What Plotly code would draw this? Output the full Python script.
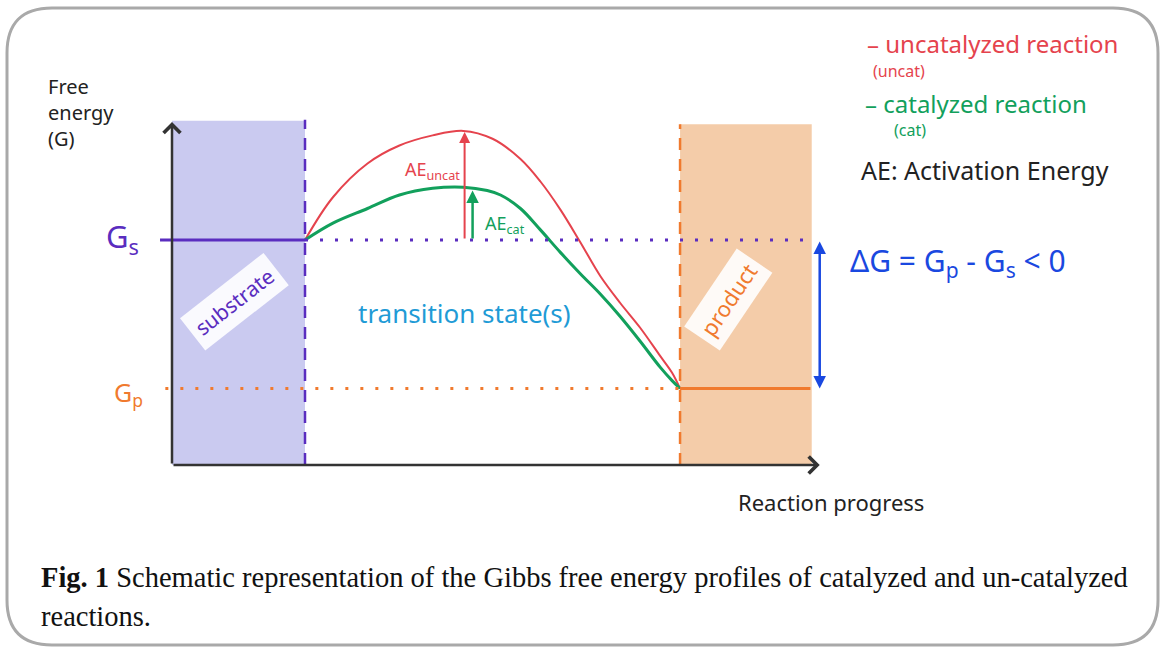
import plotly.graph_objects as go

# Free energy profile (arbitrary units): x = reaction progress, y = free energy G
progress_uncat = [1.00, 1.21, 1.47, 1.71, 1.96, 2.19, 2.41, 2.62, 2.77, 2.92,
                  3.07, 3.22, 3.37, 3.52, 3.67, 3.76, 3.82]
g_uncat = [10.0, 11.9, 13.4, 14.2, 14.65, 14.85, 14.5, 13.6, 12.6, 11.35,
           9.9, 8.4, 7.2, 6.1, 4.85, 4.1, 3.4]

progress_cat = [1.00, 1.21, 1.47, 1.71, 1.96, 2.19, 2.37, 2.47, 2.62, 2.77,
                2.92, 3.07, 3.22, 3.37, 3.52, 3.67, 3.76, 3.82]
g_cat = [10.0, 10.75, 11.4, 12.0, 12.3, 12.35, 12.2, 12.0, 11.4, 10.45,
         9.45, 8.5, 7.6, 6.6, 5.5, 4.35, 3.75, 3.4]

G_S = 10.0          # substrate free energy
G_P = 3.4           # product free energy
SUBSTRATE_END = 1.0
PRODUCT_START = 3.82
PRODUCT_END = 4.81
AXIS_END = 4.87
AXIS_TOP = 15.25
TS_PEAK_X = 2.2

W, H = 1165, 648
# axis scaling: 133 px per progress unit, 22.5 px per energy unit
X_RANGE = [-172 / 133, (W - 172) / 133]
Y_RANGE = [(465 - H) / 22.5, 465 / 22.5]

RED = "#e5434d"
GREEN = "#12a05c"
PURPLE = "#5a2dbf"
ORANGE = "#f07a2e"
BLUE = "#1a48e0"
TEAL = "#1f9bd6"
HAND = "Noto Sans"


def paper(px, py):
    return px / W, 1 - py / H


fig = go.Figure()

# shaded substrate / product zones
fig.add_shape(type="rect", x0=0, x1=SUBSTRATE_END, y0=0, y1=AXIS_TOP + 0.05,
              fillcolor="#cacaf0", line_width=0, layer="below")
fig.add_shape(type="rect", x0=PRODUCT_START, x1=PRODUCT_END, y0=0, y1=AXIS_TOP - 0.1,
              fillcolor="#f4cca9", line_width=0, layer="below")

# energy levels
fig.add_shape(type="line", x0=-0.09, x1=SUBSTRATE_END, y0=G_S, y1=G_S,
              line=dict(color=PURPLE, width=3))
fig.add_shape(type="line", x0=SUBSTRATE_END, x1=4.78, y0=G_S, y1=G_S,
              line=dict(color=PURPLE, width=3, dash="3px,12px"))
fig.add_shape(type="line", x0=-0.05, x1=PRODUCT_START, y0=G_P, y1=G_P,
              line=dict(color=ORANGE, width=3, dash="3px,12px"))
fig.add_shape(type="line", x0=PRODUCT_START, x1=4.8, y0=G_P, y1=G_P,
              line=dict(color=ORANGE, width=3))

# zone boundaries
fig.add_shape(type="line", x0=SUBSTRATE_END, x1=SUBSTRATE_END, y0=0, y1=AXIS_TOP + 0.1,
              line=dict(color=PURPLE, width=2.5, dash="12px,9px"))
fig.add_shape(type="line", x0=PRODUCT_START, x1=PRODUCT_START, y0=0, y1=AXIS_TOP - 0.1,
              line=dict(color=ORANGE, width=2.5, dash="12px,9px"))

# profiles
fig.add_trace(go.Scatter(x=progress_uncat, y=g_uncat, mode="lines",
                         line=dict(color=RED, width=2, shape="spline", smoothing=1.0),
                         hoverinfo="skip"))
fig.add_trace(go.Scatter(x=progress_cat, y=g_cat, mode="lines",
                         line=dict(color=GREEN, width=3, shape="spline", smoothing=1.0),
                         hoverinfo="skip"))


def arrow(x, y, ax, ay, color, width=2, head=2, size=1.0, side="end"):
    fig.add_annotation(x=x, y=y, ax=ax, ay=ay, xref="x", yref="y", axref="x", ayref="y",
                       text="", showarrow=True, arrowhead=head, startarrowhead=head,
                       arrowsize=size, startarrowsize=size, arrowwidth=width,
                       arrowcolor=color, arrowside=side, standoff=0, startstandoff=0)


# axes
arrow(0, AXIS_TOP, 0, 0, "#333333", width=2.5, head=4, size=1.3)
arrow(AXIS_END, 0, 0, 0, "#333333", width=2.5, head=4, size=1.3)

# activation energies
arrow(TS_PEAK_X, max(g_uncat) - 0.05, TS_PEAK_X, G_S, RED, width=2, head=2, size=1.1)
arrow(TS_PEAK_X + 0.06, max(g_cat) - 0.15, TS_PEAK_X + 0.06, G_S, GREEN, width=2.5, head=2, size=1.0)

# delta G
arrow(AXIS_END, G_P, AXIS_END, G_S, BLUE, width=2.5, head=2, size=1.0, side="end+start")


def label(px, py, text, color, size, angle=0, font=HAND, xanchor="center", bg=None, pad=0,
          align="center"):
    x, y = paper(px, py)
    fig.add_annotation(x=x, y=y, xref="paper", yref="paper", text=text, showarrow=False,
                       font=dict(family=font, size=size, color=color), textangle=angle,
                       xanchor=xanchor, yanchor="middle", align=align,
                       bgcolor=bg, borderpad=pad)


label(47, 112, "Free<br>energy<br>(G)", "#222222", 20, xanchor="left", align="left")
label(122, 238, "G<sub>s</sub>", PURPLE, 31)
label(128, 393, "G<sub>p</sub>", ORANGE, 25)
label(234, 302, "substrate", PURPLE, 21, angle=-38, bg="rgba(255,255,255,0.9)", pad=6)
label(728, 300, "product", ORANGE, 22, angle=-56, bg="rgba(255,255,255,0.9)", pad=6)
label(464, 313, "transition state(s)", TEAL, 26)
label(831, 502, "Reaction progress", "#222222", 22)
label(432, 170, "AE<sub>uncat</sub>", RED, 18)
label(505, 224, "AE<sub>cat</sub>", GREEN, 18)
label(958, 262, "ΔG = G<sub>p</sub> - G<sub>s</sub> &lt; 0", BLUE, 30)

label(866, 44, "– uncatalyzed reaction", RED, 24, xanchor="left")
label(872, 71, "(uncat)", RED, 16, xanchor="left")
label(864, 103, "– catalyzed reaction", GREEN, 24, xanchor="left")
label(893, 130, "(cat)", GREEN, 16, xanchor="left")
label(860, 170, "AE: Activation Energy", "#222222", 25, xanchor="left")

# caption
label(40, 577, "<b>Fig. 1</b> Schematic representation of the Gibbs free energy profiles of catalyzed and un-catalyzed",
      "#111111", 28.5, font="Liberation Serif", xanchor="left")
label(40, 616, "reactions.", "#111111", 28.5, font="Liberation Serif", xanchor="left")

# rounded frame
x0, y0, x1, y1, r = 7, 8, 1158, 645, 45
pts = {
    "a": paper(x0 + r, y0), "b": paper(x1 - r, y0), "c": paper(x1, y0), "d": paper(x1, y0 + r),
    "e": paper(x1, y1 - r), "f": paper(x1, y1), "g": paper(x1 - r, y1), "h": paper(x0 + r, y1),
    "i": paper(x0, y1), "j": paper(x0, y1 - r), "k": paper(x0, y0 + r), "l": paper(x0, y0),
}
p = {k: f"{v[0]:.5f},{v[1]:.5f}" for k, v in pts.items()}
frame = (f"M {p['a']} L {p['b']} Q {p['c']} {p['d']} L {p['e']} Q {p['f']} {p['g']} "
         f"L {p['h']} Q {p['i']} {p['j']} L {p['k']} Q {p['l']} {p['a']} Z")
fig.add_shape(type="path", path=frame, xref="paper", yref="paper",
              line=dict(color="#a9a9a9", width=3))

fig.update_layout(
    width=W, height=H,
    margin=dict(l=0, r=0, t=0, b=0),
    paper_bgcolor="white", plot_bgcolor="white",
    showlegend=False,
    xaxis=dict(range=X_RANGE, visible=False, fixedrange=True),
    yaxis=dict(range=Y_RANGE, visible=False, fixedrange=True),
)

fig.write_html("out.html", config={"displayModeBar": False},
               post_script="document.body.style.margin='0';")
